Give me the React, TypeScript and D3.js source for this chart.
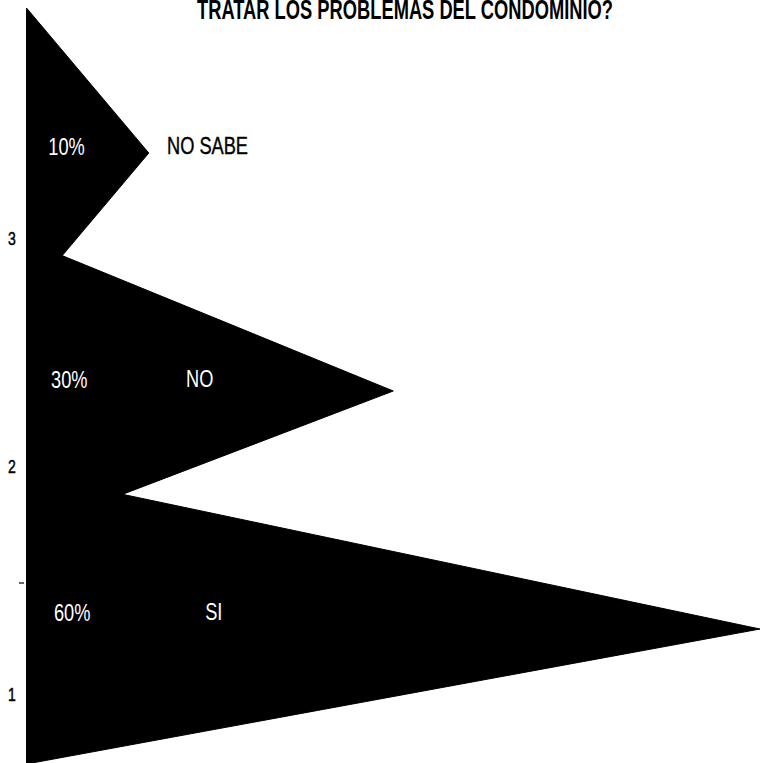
import React from "react";
import * as d3 from "d3";

// Survey answers, drawn as cones (flat triangles) along a vertical category axis
const CATEGORIES = ["3", "2", "1"];
const ANSWERS = ["NO SABE", "NO", "SI"];
const SHARES = [10, 30, 60];
const TITLE = "TRATAR LOS PROBLEMAS DEL CONDOMINIO?";

const W = 760;
const H = 763;
const FONT = "'Liberation Sans', Arial, Helvetica, sans-serif";

export default function App() {
  const axisX = 26.5;

  // value -> horizontal reach of each cone
  const x = d3.scaleLinear().domain([0, 60]).range([axisX, 760]);

  // cone base centres
  const y = d3.scalePoint<string>().domain(CATEGORIES).range([153, 619]);
  const halfBase = 145;

  // category labels sit on the front face of the 3-D axis
  const yLabel = d3.scalePoint<string>().domain(CATEGORIES).range([238, 694]);

  // slight perspective: lower cones tip a little further down
  const eyeY = y(CATEGORIES[0]) as number;
  const drop = (cy: number) => (cy - eyeY) * 0.0215;

  const cones = CATEGORIES.map((c, i) => {
    const cy = y(c) as number;
    const tipX = x(SHARES[i]);
    const tipY = cy + drop(cy);
    const pts: [number, number][] = [
      [axisX, cy - halfBase],
      [tipX, tipY],
      [axisX, cy + halfBase],
    ];
    return { c, cy, pts, answer: ANSWERS[i], share: SHARES[i] };
  });

  const line = d3.line();

  // boundary tick between the two lowest categories
  const boundaryY =
    ((yLabel(CATEGORIES[1]) as number) + (yLabel(CATEGORIES[2]) as number)) / 2 + 3;

  return (
    <svg
      width={W}
      height={H}
      viewBox={`0 0 ${W} ${H}`}
      style={{ position: "fixed", left: 0, top: 0, background: "#fff" }}
    >
      <rect width={W} height={H} fill="#fff" />

      {/* title (second line, top clipped by the frame) */}
      <text
        x={405}
        y={18.5}
        textAnchor="middle"
        fontFamily={FONT}
        fontWeight="bold"
        fontSize={27}
        textLength={416}
        lengthAdjust="spacingAndGlyphs"
        fill="#000"
      >
        {TITLE}
      </text>

      {/* cones */}
      {cones.map((d) => (
        <path key={d.c} d={line([...d.pts, d.pts[0]]) + "Z"} fill="#000" stroke="#000" strokeWidth={1} strokeLinejoin="miter" />
      ))}

      {/* axis line */}
      <line x1={axisX} x2={axisX} y1={8} y2={H} stroke="#000" strokeWidth={1} />

      {/* boundary tick */}
      <line x1={19} x2={24} y1={boundaryY} y2={boundaryY} stroke="#000" strokeWidth={1.2} />

      {/* category axis labels */}
      {CATEGORIES.map((c) => (
        <text
          key={c}
          transform={`translate(12,${(yLabel(c) as number) + 7}) scale(0.78,1)`}
          textAnchor="middle"
          fontFamily={FONT}
          fontSize={18}
          fill="#000"
          stroke="#000"
          strokeWidth={0.5}
        >
          {c}
        </text>
      ))}

      {/* percentage labels inside the cones */}
      {cones.map((d) => (
        <text
          key={"p" + d.c}
          transform={`translate(${48.3 + (d.cy - eyeY) * 0.012},${d.cy + 2}) scale(0.76,1)`}
          fontFamily={FONT}
          fontSize={24}
          fill="#fff"
        >
          {d.share + "%"}
        </text>
      ))}

      {/* answer labels */}
      {cones.map((d) => {
        const lx = 167 + (d.cy - eyeY) * 0.082;
        const outside = lx > x(d.share) - 20;
        return (
          <text
            key={"a" + d.c}
            transform={`translate(${lx},${d.cy + 1}) scale(0.76,1)`}
            fontFamily={FONT}
            fontSize={24}
            fill={outside ? "#000" : "#fff"}
            stroke={outside ? "#000" : "none"}
            strokeWidth={outside ? 0.4 : 0}
          >
            {d.answer}
          </text>
        );
      })}
    </svg>
  );
}
